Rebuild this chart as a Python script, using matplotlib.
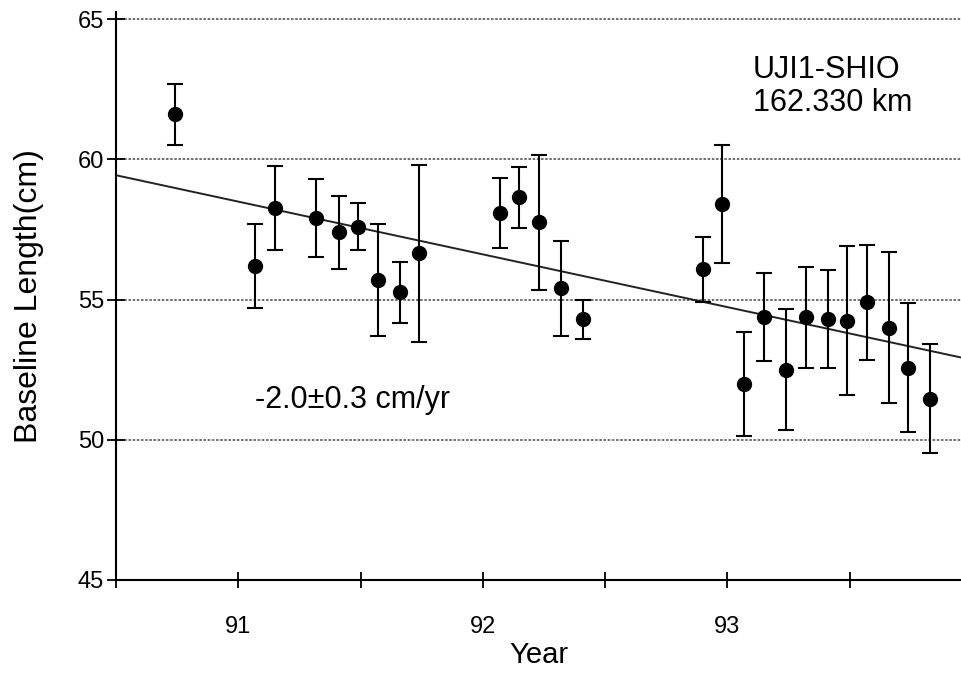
import matplotlib.pyplot as plt
import numpy as np

plt.rcParams['font.family'] = ['Liberation Sans', 'DejaVu Sans']

# epoch (year) , baseline length (cm), 1-sigma error (cm)
year = [90.74, 91.07, 91.15, 91.32, 91.41, 91.49, 91.57, 91.66, 91.74,
        92.07, 92.15, 92.23, 92.32, 92.41, 92.90, 92.98,
        93.07, 93.15, 93.24, 93.32, 93.41, 93.49, 93.57, 93.66, 93.74, 93.83]
length = [61.6, 56.2, 58.25, 57.9, 57.4, 57.6, 55.7, 55.25, 56.65,
          58.07, 58.64, 57.75, 55.4, 54.3, 56.07, 58.4,
          52.0, 54.36, 52.5, 54.36, 54.3, 54.25, 54.9, 54.0, 52.57, 51.46]
err = [1.1, 1.5, 1.5, 1.4, 1.3, 0.85, 2.0, 1.1, 3.15,
       1.25, 1.1, 2.4, 1.7, 0.7, 1.15, 2.1,
       1.85, 1.57, 2.15, 1.8, 1.75, 2.65, 2.05, 2.7, 2.3, 1.95]

# fitted trend
fit_t0 = 90.5
fit_y0 = 59.43
fit_slope = -1.88

W, H = 962, 673
fig = plt.figure(figsize=(W / 100, H / 100), dpi=100)
ax = fig.add_axes([116 / W, 1 - 580 / H, 1 - 116 / W, (580 - 12) / H])

ax.errorbar(year, length, yerr=err, fmt='o', color='black', markersize=10,
            ecolor='black', elinewidth=1.5, capsize=6, capthick=1.5, zorder=3)

xs = np.array([90.5, 93.96])
ax.plot(xs, fit_y0 + fit_slope * (xs - fit_t0), color='#222222', lw=1.4)

for g in [50, 55, 60, 65]:
    ax.axhline(g, color='#555555', lw=1.2, ls=(0, (1.5, 1)), zorder=1)

ax.set_xlim(90.5, 93.96)
ax.set_ylim(45, 65.25)
ax.spines['top'].set_visible(False)
ax.spines['right'].set_visible(False)
ax.spines['left'].set_linewidth(1.5)
ax.spines['bottom'].set_linewidth(1.5)

ax.set_yticks([45, 50, 55, 60, 65])
ax.set_xticks([91, 92, 93])
ax.set_xticks([90.5, 91.5, 92.5, 93.5], minor=True)
ax.tick_params(axis='y', direction='inout', length=13, width=1.3, labelsize=17, pad=2)
ax.tick_params(axis='x', which='both', direction='inout', length=12, width=1.3,
               labelsize=17, pad=20)

ax.set_xlabel('Year', fontsize=21, labelpad=2)
ax.set_ylabel('Baseline Length(cm)', fontsize=23, labelpad=24)

def put(x, y, s):
    fig.text(x / W, 1 - y / H, s, fontsize=22, va='center', ha='left')

put(753, 70, 'UJI1-SHIO')
put(753, 103, '162.330 km')
put(255, 400, '-2.0±0.3 cm/yr')

fig.savefig('out.png', dpi=100)
